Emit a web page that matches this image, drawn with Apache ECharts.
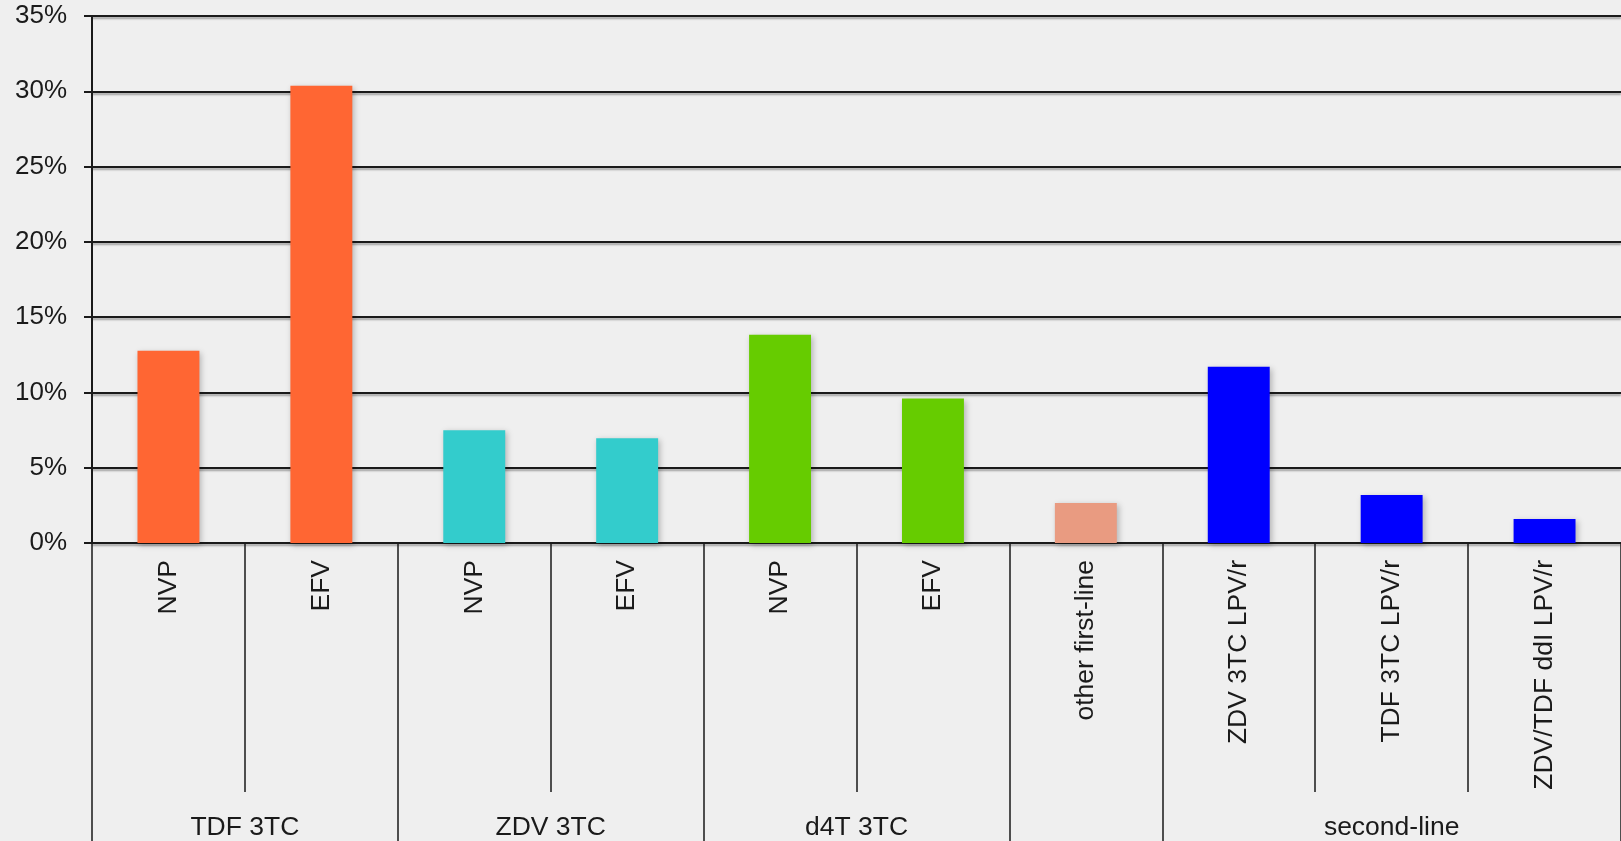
<!DOCTYPE html>
<html>
<head>
<meta charset="utf-8">
<script src="https://cdn.jsdelivr.net/npm/echarts@6/dist/echarts.min.js"></script>
<style>
html,body{margin:0;padding:0;background:#efefef;}
#chart{width:1621px;height:841px;}
</style>
</head>
<body>
<div id="chart"></div>
<script>
const categories = ['NVP','EFV','NVP','EFV','NVP','EFV','other first-line','ZDV 3TC LPV/r','TDF 3TC LPV/r','ZDV/TDF ddI LPV/r'];
const values = [12.77, 30.37, 7.48, 6.95, 13.83, 9.59, 2.65, 11.71, 3.18, 1.59];
const barColors = ['#ff6633','#ff6633','#33cccc','#33cccc','#66cc00','#66cc00','#e99b81','#0000ff','#0000ff','#0000ff'];
const groupNames = ['TDF 3TC','ZDV 3TC','d4T 3TC','','second-line'];
const groupSizes = [2,2,2,1,3];
const yTicks = [0,5,10,15,20,25,30,35];

// group boundaries and centers (in category units)
const groupBounds = [0];
const groupCenters = [];
groupSizes.forEach((s,i)=>{ const start = groupBounds[groupBounds.length-1]; groupCenters.push(start + s/2); groupBounds.push(start + s); });

const font = '"Liberation Sans", Arial, Helvetica, sans-serif';
const ink = '#1a1a1a';

const chart = echarts.init(document.getElementById('chart'));
chart.setOption({
  backgroundColor: '#efefef',
  animation: false,
  grid: { left: 92, top: 16, right: 0, bottom: 296, containLabel: false },
  xAxis: [
    {
      type: 'category',
      data: categories,
      position: 'bottom',
      axisLine: { show: true, lineStyle: { color: ink, width: 2 } },
      axisTick: { show: true, interval: 0, length: 249, lineStyle: { color: ink, width: 1.5 } },
      axisLabel: { interval: 0, rotate: 90, margin: 17, fontSize: 26.5, color: ink, fontFamily: font }
    },
    {
      type: 'value',
      min: 0,
      max: categories.length,
      position: 'bottom',
      axisLine: { show: false },
      splitLine: { show: false },
      axisTick: { show: true, customValues: groupBounds, length: 300, lineStyle: { color: ink, width: 1.5 } },
      axisLabel: {
        show: true,
        customValues: groupCenters,
        margin: 271,
        fontSize: 26.5,
        color: ink,
        fontFamily: font,
        formatter: function (v) {
          const idx = groupCenters.findIndex(c => Math.abs(c - v) < 1e-6);
          return idx >= 0 ? groupNames[idx] : '';
        }
      }
    }
  ],
  yAxis: {
    type: 'value',
    min: yTicks[0],
    max: yTicks[yTicks.length-1],
    interval: 5,
    axisLine: { show: true, lineStyle: { color: ink, width: 2 } },
    axisTick: { show: true, length: 8, lineStyle: { color: ink, width: 2 } },
    axisLabel: { formatter: '{value}%', fontSize: 26, color: ink, fontFamily: font, margin: 25, padding: [5, 0, 0, 0] },
    splitLine: { show: true, lineStyle: { color: ink, width: 2, shadowColor: 'rgba(0,0,0,0.35)', shadowBlur: 2, shadowOffsetY: 2 } }
  },
  series: [{
    type: 'bar',
    xAxisIndex: 0,
    barWidth: '40.5%',
    data: values.map((v,i)=>({ value: v, itemStyle: { color: barColors[i] } })),
    itemStyle: { shadowColor: 'rgba(0,0,0,0.25)', shadowBlur: 6, shadowOffsetX: 2, shadowOffsetY: 2 }
  }]
});
</script>
</body>
</html>
